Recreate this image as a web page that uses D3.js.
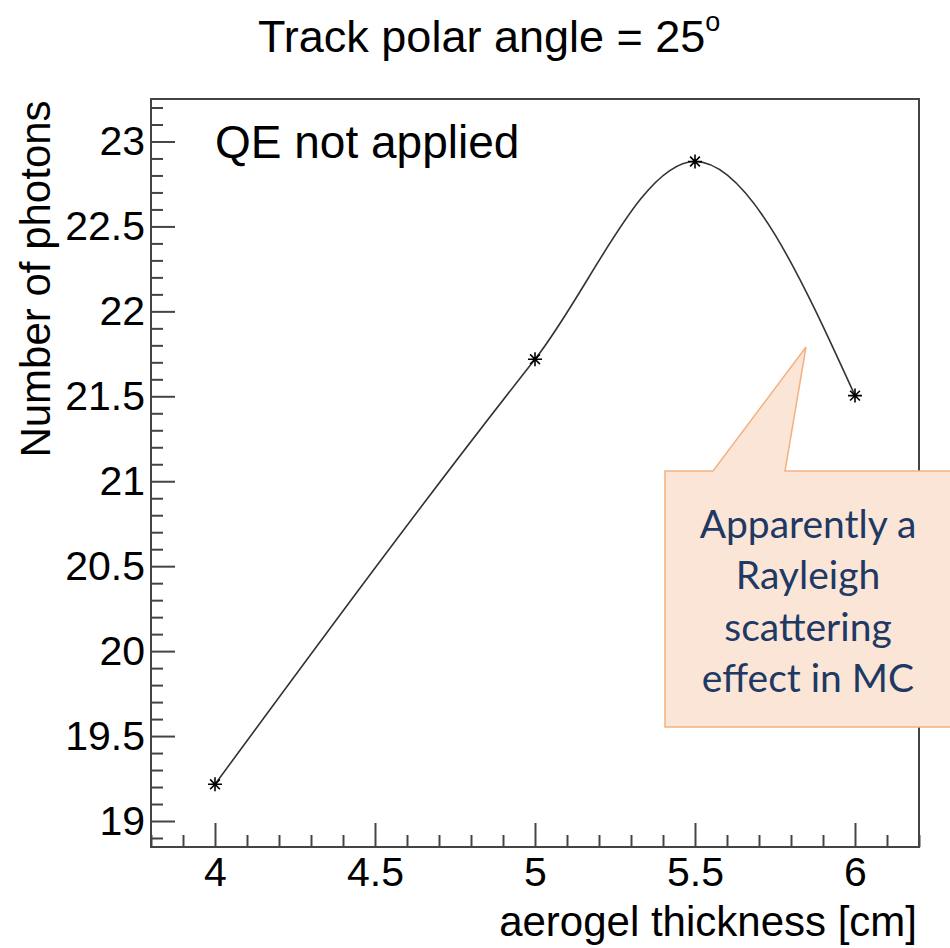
<!DOCTYPE html>
<html>
<head>
<meta charset="utf-8">
<script src="https://cdn.jsdelivr.net/npm/d3@7"></script>
<style>
  html, body { margin: 0; padding: 0; background: #fff; }
  svg { display: block; }
  .root-text { font-family: "Liberation Sans", Arial, Helvetica, sans-serif; fill: #000; }
</style>
</head>
<body>
<svg id="chart" width="950" height="948"></svg>
<script>
// Photon yield vs aerogel thickness
const thickness = [4, 5, 5.5, 6];                 // cm
const photons   = [19.216, 21.718, 22.882, 21.504];

const xMajorTicks = [4, 4.5, 5, 5.5, 6];
const xTickLabels = ["4", "4.5", "5", "5.5", "6"];
const yMajorTicks = [19, 19.5, 20, 20.5, 21, 21.5, 22, 22.5, 23];
const yTickLabels = ["19", "19.5", "20", "20.5", "21", "21.5", "22", "22.5", "23"];

const titleText  = "Track polar angle = 25";
const titleSup   = "o";
const xTitle     = "aerogel thickness [cm]";
const yTitle     = "Number of photons";
const noteText   = "QE not applied";
const calloutLines = ["Apparently a", "Rayleigh", "scattering", "effect in MC"];

const svg = d3.select("#chart");
const frame = { left: 151, right: 919, top: 99, bottom: 847 };

const x = d3.scaleLinear().domain([3.8, 6.2]).range([frame.left, frame.right]);
const y = d3.scaleLinear().domain([18.847, 23.25]).range([frame.bottom, frame.top]);

const axisColor = "#444";

// minor ticks every 0.1
const xMinor = d3.range(38, 63).map(v => v / 10).filter(v => !xMajorTicks.some(m => Math.abs(m - v) < 1e-6));
const yMinor = d3.range(189, 233).map(v => v / 10).filter(v => !yMajorTicks.some(m => Math.abs(m - v) < 1e-6));

function styleAxis(g) {
  g.select(".domain").remove();
  g.selectAll(".tick line").attr("stroke", axisColor).attr("stroke-width", 2);
  g.selectAll(".tick text")
    .attr("class", "root-text")
    .style("font-size", "41px")
    .attr("fill", "#000");
}

// x axis
svg.append("g")
  .attr("transform", `translate(0,${frame.bottom})`)
  .call(d3.axisBottom(x).tickValues(xMinor).tickSizeInner(-12).tickSizeOuter(0).tickFormat(""))
  .call(styleAxis);
svg.append("g")
  .attr("transform", `translate(0,${frame.bottom})`)
  .call(d3.axisBottom(x).tickValues(xMajorTicks).tickSizeInner(-24).tickSizeOuter(0).tickPadding(10)
        .tickFormat((d, i) => xTickLabels[i]))
  .call(styleAxis);

// y axis
svg.append("g")
  .attr("transform", `translate(${frame.left},0)`)
  .call(d3.axisLeft(y).tickValues(yMinor).tickSizeInner(-12).tickSizeOuter(0).tickFormat(""))
  .call(styleAxis);
svg.append("g")
  .attr("transform", `translate(${frame.left},0)`)
  .call(d3.axisLeft(y).tickValues(yMajorTicks).tickSizeInner(-24).tickSizeOuter(0).tickPadding(6)
        .tickFormat((d, i) => yTickLabels[i]))
  .call(styleAxis);

// frame
svg.append("rect")
  .attr("x", frame.left).attr("y", frame.top)
  .attr("width", frame.right - frame.left).attr("height", frame.bottom - frame.top)
  .attr("fill", "none").attr("stroke", axisColor).attr("stroke-width", 2);

// smooth curve through the points
const pts = thickness.map((t, i) => [t, photons[i]]);
const line = d3.line().x(d => x(d[0])).y(d => y(d[1])).curve(d3.curveMonotoneX);
svg.append("path")
  .datum(pts)
  .attr("d", line)
  .attr("fill", "none")
  .attr("stroke", "#333")
  .attr("stroke-width", 1.6);

// asterisk markers
const r = 7;
const star = `M${-r},0L${r},0M0,${-r}L0,${r}M${-r*0.7},${-r*0.7}L${r*0.7},${r*0.7}M${-r*0.7},${r*0.7}L${r*0.7},${-r*0.7}`;
svg.append("g").selectAll("path")
  .data(pts)
  .join("path")
  .attr("transform", d => `translate(${x(d[0])},${y(d[1])})`)
  .attr("d", star)
  .attr("stroke", "#000")
  .attr("stroke-width", 1.6)
  .attr("fill", "none");

// title
const title = svg.append("text")
  .attr("class", "root-text")
  .attr("x", 258).attr("y", 52)
  .style("font-size", "45px")
  .text(titleText);
title.append("tspan")
  .attr("dy", -21)
  .style("font-size", "27px")
  .text(titleSup);

// axis titles
svg.append("text")
  .attr("class", "root-text")
  .attr("x", 917).attr("y", 936)
  .attr("text-anchor", "end")
  .style("font-size", "42px")
  .text(xTitle);

svg.append("text")
  .attr("class", "root-text")
  .attr("transform", "translate(50,279) rotate(-90)")
  .attr("text-anchor", "middle")
  .style("font-size", "42px")
  .text(yTitle);

// in-frame note
svg.append("text")
  .attr("class", "root-text")
  .attr("x", 215).attr("y", 158)
  .style("font-size", "46px")
  .text(noteText);

// callout box with pointer
const box = { x0: 665, y0: 471, x1: 956, y1: 727 };
const tip = [806, 347];
const callout = d3.path();
callout.moveTo(box.x0, box.y0);
callout.lineTo(713, box.y0);
callout.lineTo(tip[0], tip[1]);
callout.lineTo(785, box.y0);
callout.lineTo(box.x1, box.y0);
callout.lineTo(box.x1, box.y1);
callout.lineTo(box.x0, box.y1);
callout.closePath();
svg.append("path")
  .attr("d", callout.toString())
  .attr("fill", "#fbe5d6")
  .attr("stroke", "#f4b183")
  .attr("stroke-width", 1.5);

svg.append("g").selectAll("text")
  .data(calloutLines)
  .join("text")
  .attr("x", 808)
  .attr("y", (d, i) => 538 + i * 51.3)
  .attr("text-anchor", "middle")
  .style("font-family", "Lato, 'Open Sans', sans-serif")
  .style("font-size", "39px")
  .attr("fill", "#203864")
  .text(d => d);
</script>
</body>
</html>
